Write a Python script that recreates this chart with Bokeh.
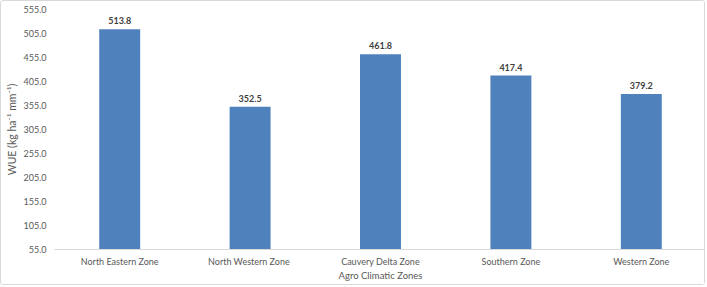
from bokeh.plotting import figure
from bokeh.models import ColumnDataSource, FactorRange, Range1d, FixedTicker, LabelSet, CustomJSTickFormatter
from bokeh.core.properties import value
from bokeh.embed import file_html
from bokeh.resources import INLINE

zones = ["North Eastern Zone", "North  Western Zone", "Cauvery Delta Zone", "Southern Zone", "Western Zone"]
wue = [513.8, 352.5, 461.8, 417.4, 379.2]
y_ticks = [55, 105, 155, 205, 255, 305, 355, 405, 455, 505, 555]

labels = [f"{v:.1f}" for v in wue]
src = ColumnDataSource(dict(zone=zones, wue=wue, lab=labels))

FONT = "Lato"
p = figure(x_range=FactorRange(*zones), y_range=Range1d(55, 555),
           width=705, height=285, output_backend="svg", toolbar_location=None,
           min_border_left=53, min_border_right=0, min_border_top=8, min_border_bottom=37,
           styles={"border": "1px solid #d9d9d9", "border-radius": "3px"})
p.x_range.range_padding = 0
p.outline_line_color = None
p.xgrid.grid_line_color = None
p.ygrid.grid_line_color = None

p.vbar(x="zone", top="wue", bottom=55, width=0.314, source=src,
       fill_color="#4F81BD", line_color=None)

p.add_layout(LabelSet(x="zone", y="wue", text="lab", source=src, text_align="center",
                      text_baseline="bottom", y_offset=5, text_font=value(FONT),
                      text_font_size=value("9px"), text_font_style="bold", text_color="#404040"))

p.yaxis.ticker = FixedTicker(ticks=y_ticks)
p.yaxis.formatter = CustomJSTickFormatter(code="return tick.toFixed(1);")
p.yaxis.axis_line_color = None
p.yaxis.major_tick_line_color = None
p.yaxis.minor_tick_line_color = None
p.yaxis.major_tick_out = 0
p.yaxis.major_tick_in = 0
p.yaxis.minor_tick_out = 0
p.yaxis.major_label_text_font = FONT
p.yaxis.major_label_text_font_size = "9px"
p.yaxis.major_label_text_color = "#595959"
p.yaxis.major_label_standoff = 8
p.yaxis.axis_label = "WUE (kg ha\u207b\u00b9 mm\u207b\u00b9)"
p.yaxis.axis_label_text_font = FONT
p.yaxis.axis_label_text_font_size = "10.5px"
p.yaxis.axis_label_text_font_style = "normal"
p.yaxis.axis_label_text_color = "#595959"
p.yaxis.axis_label_standoff = 2

p.xaxis.axis_line_color = "#d9d9d9"
p.xaxis.major_tick_line_color = None
p.xaxis.minor_tick_line_color = None
p.xaxis.major_tick_out = 0
p.xaxis.major_tick_in = 0
p.xaxis.minor_tick_out = 0
p.xaxis.major_label_text_font = FONT
p.xaxis.major_label_text_font_size = "9px"
p.xaxis.major_label_text_color = "#595959"
p.xaxis.major_label_standoff = 6
p.xaxis.axis_label = "Agro Climatic Zones"
p.xaxis.axis_label_text_font = FONT
p.xaxis.axis_label_text_font_size = "9.5px"
p.xaxis.axis_label_text_font_style = "normal"
p.xaxis.axis_label_text_color = "#595959"
p.xaxis.axis_label_standoff = 0

open("out.html", "w").write(file_html(p, INLINE))
